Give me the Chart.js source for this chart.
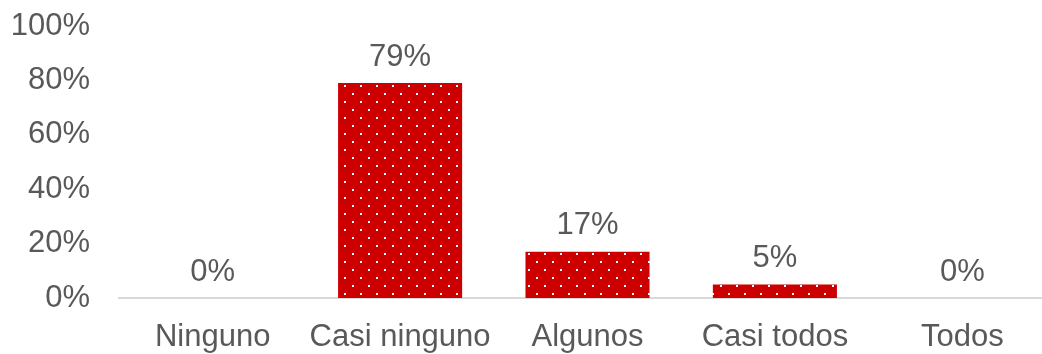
<!DOCTYPE html>
<html>
<head>
<meta charset="utf-8">
<script src="https://cdn.jsdelivr.net/npm/chart.js@4/dist/chart.umd.min.js"></script>
<style>
  html, body { margin: 0; padding: 0; background: #ffffff; overflow: hidden; }
  #wrap { width: 1056px; height: 354px; }
</style>
</head>
<body>
<div id="wrap"><canvas id="chart" width="1056" height="354"></canvas></div>
<script>
// Share of respondents per answer
const categories = ['Ninguno', 'Casi ninguno', 'Algunos', 'Casi todos', 'Todos'];
const shares = [0, 79, 17, 5, 0];
const tickValues = [0, 20, 40, 60, 80, 100];

const TEXT = '#595959';
const FONT = { family: '"Liberation Sans", Arial, sans-serif', size: 31 };

// Red fill with a staggered grid of small white dots
function dottedRed() {
  const tile = document.createElement('canvas');
  tile.width = 16; tile.height = 16;
  const t = tile.getContext('2d');
  t.fillStyle = '#CC0000';
  t.fillRect(0, 0, 16, 16);
  t.fillStyle = '#ffffff';
  t.fillRect(8, 5, 2, 2);
  t.fillRect(0, 13, 2, 2);
  return t.createPattern(tile, 'repeat');
}

// Percentage label above each bar
const valueLabels = {
  id: 'valueLabels',
  afterDatasetsDraw(chart) {
    const ctx = chart.ctx;
    const meta = chart.getDatasetMeta(0);
    ctx.save();
    ctx.font = `${FONT.size}px ${FONT.family}`;
    ctx.fillStyle = TEXT;
    ctx.textAlign = 'center';
    ctx.textBaseline = 'middle';
    meta.data.forEach((bar, i) => {
      ctx.fillText(shares[i] + '%', bar.x, bar.y - 26);
    });
    ctx.restore();
  }
};

new Chart(document.getElementById('chart'), {
  type: 'bar',
  data: {
    labels: categories,
    datasets: [{
      data: shares,
      backgroundColor: dottedRed(),
      borderWidth: 0,
      categoryPercentage: 1,
      barPercentage: 0.662
    }]
  },
  options: {
    responsive: false,
    animation: false,
    layout: { padding: { top: 26, left: 0, right: 0, bottom: 0 } },
    plugins: { legend: { display: false }, tooltip: { enabled: false } },
    scales: {
      x: {
        offset: true,
        grid: { display: false, drawTicks: false },
        border: { display: true, color: '#d9d9d9', width: 2 },
        ticks: { color: TEXT, font: FONT, padding: 21, maxRotation: 0, autoSkip: false },
        afterFit(axis) { axis.height = 56; axis.paddingLeft = 0; axis.paddingRight = 0; }
      },
      y: {
        min: 0,
        max: 100,
        afterBuildTicks(axis) { axis.ticks = tickValues.map(v => ({ value: v })); },
        grid: { display: false, drawTicks: false },
        border: { display: false },
        ticks: { color: TEXT, font: FONT, padding: 29, callback: v => v + '%' },
        afterFit(axis) { axis.width = 119; axis.paddingTop = 0; axis.paddingBottom = 0; }
      }
    }
  },
  plugins: [valueLabels]
});
</script>
</body>
</html>
